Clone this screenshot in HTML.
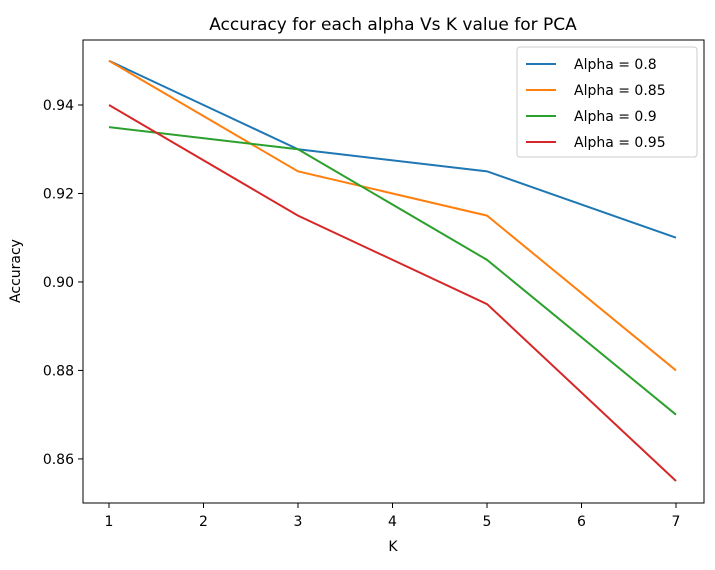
<!DOCTYPE html>
<html><head><meta charset="utf-8"><style>
body{margin:0;background:#fff;}
svg text{font-family:"DejaVu Sans","Liberation Sans",sans-serif;fill:#000;}
</style></head><body>
<svg id="chart" width="715" height="565">
<text x="393" y="30" font-size="17" text-anchor="middle">Accuracy for each alpha Vs K value for PCA</text>
<g id="plot"></g>
<text x="393" y="551" font-size="14" text-anchor="middle">K</text>
<text transform="translate(20,271) rotate(-90)" font-size="14" text-anchor="middle">Accuracy</text>
</svg>
<script>
const kValues=[1,3,5,7];
const alpha08=[0.95,0.93,0.925,0.91];
const alpha085=[0.95,0.925,0.915,0.88];
const alpha09=[0.935,0.93,0.905,0.87];
const alpha095=[0.94,0.915,0.895,0.855];
const seriesNames=["Alpha = 0.8","Alpha = 0.85","Alpha = 0.9","Alpha = 0.95"];
const xTicks=[1,2,3,4,5,6,7];
const yTicks=[0.86,0.88,0.90,0.92,0.94];
const colors=["#1f77b4","#ff7f0e","#2ca02c","#d62728"];
const L=83,R=704,T=40,B=503;
function xs(v){return 109+(v-1)*94.5;}
function ys(v){return 105+(0.94-v)*4424;}
const ns="http://www.w3.org/2000/svg";
const g=document.getElementById('plot');
function mk(t,a){const e=document.createElementNS(ns,t);for(const k in a)e.setAttribute(k,a[k]);g.appendChild(e);return e;}
xTicks.forEach(v=>{
const t=mk('line',{x1:xs(v),x2:xs(v),y1:B,y2:B+5,stroke:'#000'});


const l=mk('text',{x:xs(v),y:B+23,'font-size':14,'text-anchor':'middle'});l.textContent=v;


});
yTicks.forEach(v=>{
const t=mk('line',{x1:L-5,x2:L,y1:ys(v),y2:ys(v),stroke:'#000'});


const l=mk('text',{x:L-9,y:ys(v)+5,'font-size':14,'text-anchor':'end'});l.textContent=v.toFixed(2);


});
[alpha08,alpha085,alpha09,alpha095].forEach((s,i)=>{
const p=mk('polyline',{points:s.map((v,j)=>xs(kValues[j])+','+ys(v)).join(' '),fill:'none',stroke:colors[i],'stroke-width':2});


});
const fr=mk('rect',{x:L,y:T,width:R-L,height:B-T,fill:'none',stroke:'#000','stroke-width':1});


const lg=mk('rect',{x:517,y:47,width:180,height:110,rx:3,fill:'#fff','fill-opacity':0.8,stroke:'#ccc'});


seriesNames.forEach((n,i)=>{
const y=64+i*26;
const ln=mk('line',{x1:526,x2:556,y1:y,y2:y,stroke:colors[i],'stroke-width':2});


const t=mk('text',{x:574,y:y+5,'font-size':14});t.textContent=n;


});
</script>
</body></html>
